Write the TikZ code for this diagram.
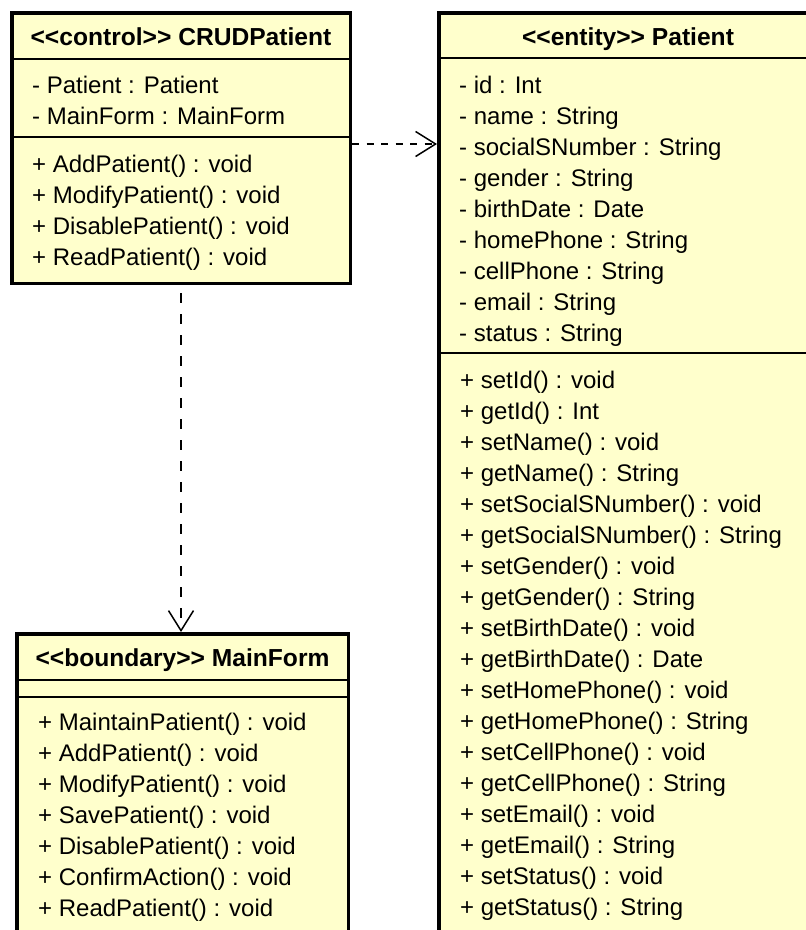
\documentclass[tikz,border=0pt]{standalone}
\usepackage{fontspec}
\setmainfont{Liberation Sans}
\usetikzlibrary{arrows.meta}
\definecolor{classfill}{HTML}{FFFFCC}
\tikzset{
  classbox/.style={draw=black, line width=3.5pt, fill=classfill, rectangle,
    inner sep=0pt, anchor=north west},
  sepline/.style={line width=1.5pt},
  member/.style={anchor=base west, inner sep=0pt, font=\fontsize{24}{28}\selectfont},
  classtitle/.style={anchor=base, inner sep=0pt, font=\bfseries\fontsize{24.6}{28}\selectfont},
  dep/.style={line width=1.4pt,
    -{Straight Barb[length=20pt,width=25pt,line width=1.5pt]}},
}
\begin{document}
\begin{tikzpicture}[x=1pt,y=-1pt]
\useasboundingbox (0,0) rectangle (806,930);
\clip (0,0) rectangle (806,930);

% ---- class CRUDPatient ----
\node[classbox, minimum width=338.5pt, minimum height=270.5pt] (crud) at (10,11) {};
\draw[sepline] (crud.west |- 0,59) -- (crud.east |- 0,59);
\draw[sepline] (crud.west |- 0,137) -- (crud.east |- 0,137);
\node[classtitle] (crudt) at (crud.center |- 0,45.5) {<\kern0pt<control>\kern0pt> CRUDPatient};
\foreach \t [count=\i] in {{- Patient : Patient},{- MainForm : MainForm}}
  \node[member] (crudA\i) at (32,{93+31.5*(\i-1)}) {\t};
\foreach \t [count=\i] in {{+ AddPatient() : void},{+ ModifyPatient() : void},
    {+ DisablePatient() : void},{+ ReadPatient() : void}}
  \node[member] (crudM\i) at (32,{172+31*(\i-1)}) {\t};

% ---- class Patient ----
\node[classbox, minimum width=400pt, minimum height=1000pt] (patient) at (437,11) {};
\draw[sepline] (patient.west |- 0,58) -- (patient.east |- 0,58);
\draw[sepline] (patient.west |- 0,353) -- (patient.east |- 0,353);
\node[classtitle] (patientt) at (628,45.5) {<\kern0pt<entity>\kern0pt> Patient};
\foreach \t [count=\i] in {{- id : Int},{- name : String},{- socialSNumber : String},
    {- gender : String},{- birthDate : Date},{- homePhone : String},
    {- cellPhone : String},{- email : String},{- status : String}}
  \node[member] (patA\i) at (459,{93.3+31*(\i-1)}) {\t};
\foreach \t [count=\i] in {{+ setId() : void},{+ getId() : Int},{+ setName() : void},
    {+ getName() : String},{+ setSocialSNumber() : void},{+ getSocialSNumber() : String},
    {+ setGender() : void},{+ getGender() : String},{+ setBirthDate() : void},
    {+ getBirthDate() : Date},{+ setHomePhone() : void},{+ getHomePhone() : String},
    {+ setCellPhone() : void},{+ getCellPhone() : String},{+ setEmail() : void},
    {+ getEmail() : String},{+ setStatus() : void},{+ getStatus() : String}}
  \node[member] (patM\i) at (460,{388.5+31*(\i-1)}) {\t};

% ---- class MainForm ----
\node[classbox, minimum width=331.5pt, minimum height=400pt] (mainform) at (15,632) {};
\draw[sepline] (mainform.west |- 0,680) -- (mainform.east |- 0,680);
\draw[sepline] (mainform.west |- 0,697) -- (mainform.east |- 0,697);
\node[classtitle] (mainformt) at (mainform.north |- 0,666.5) {<\kern0pt<boundary>\kern0pt> MainForm};
\foreach \t [count=\i] in {{+ MaintainPatient() : void},{+ AddPatient() : void},
    {+ ModifyPatient() : void},{+ SavePatient() : void},{+ DisablePatient() : void},
    {+ ConfirmAction() : void},{+ ReadPatient() : void}}
  \node[member] (mfM\i) at (38,{730+31*(\i-1)}) {\t};

% ---- dependencies ----
\coordinate (depA) at ([yshift=4pt]crud.east);
\draw[dep, dash pattern=on 7pt off 7.5pt] (depA) -- (depA -| patient.west);
\draw[dep, dash pattern=on 10pt off 11pt, dash phase=13pt] (crud.south) -- (crud.south |- mainform.north);
\end{tikzpicture}
\end{document}
